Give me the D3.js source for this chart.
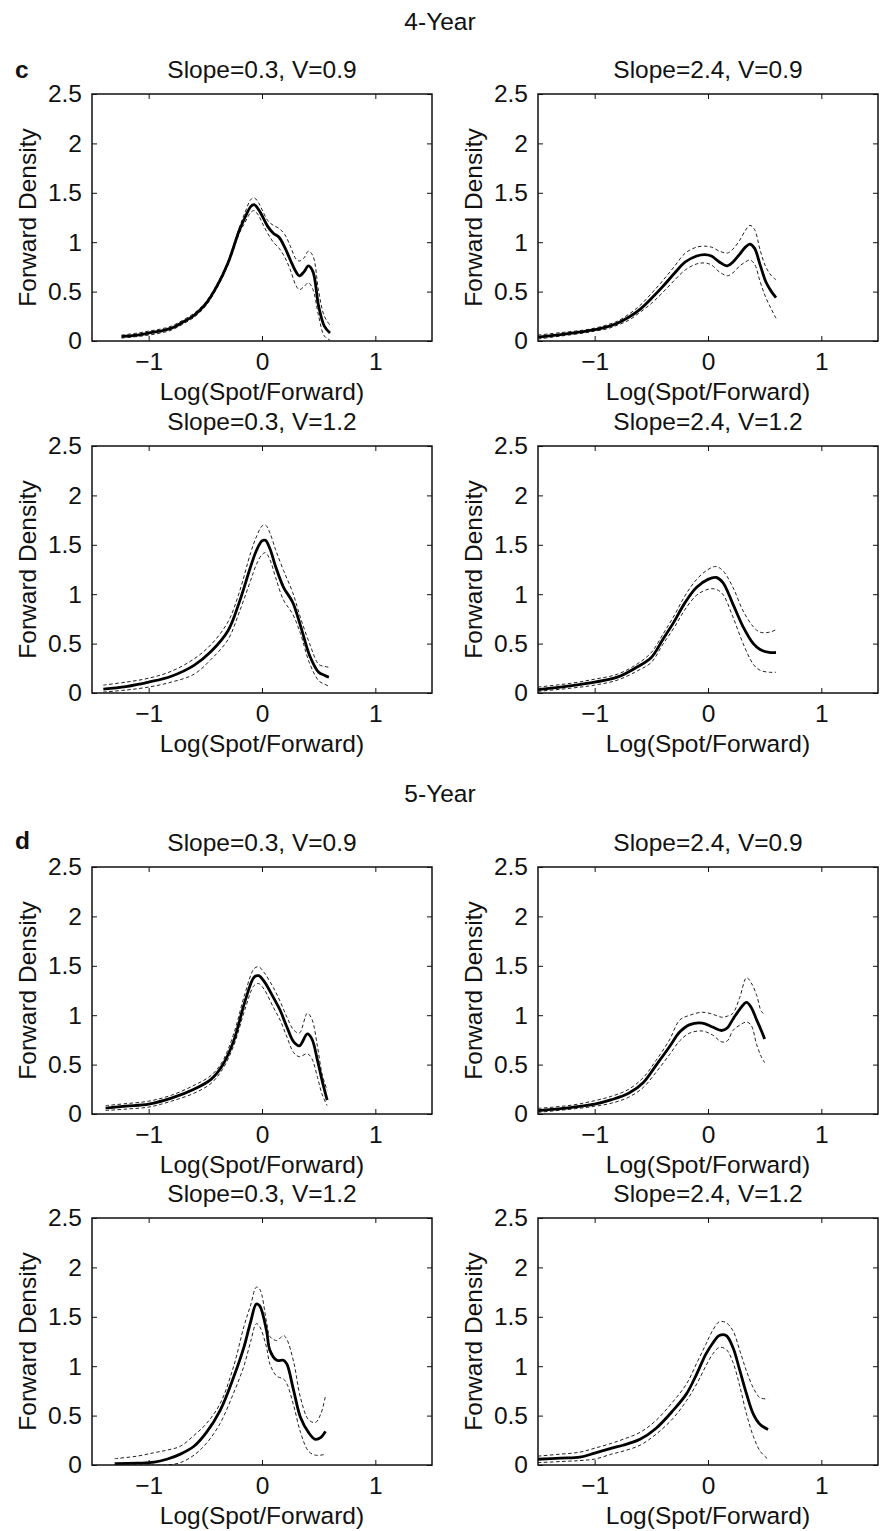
<!DOCTYPE html>
<html>
<head>
<meta charset="utf-8">
<script src="https://cdn.jsdelivr.net/npm/d3@7"></script>
<style>
  body { margin: 0; background: #fff; }
  svg { display: block; font-family: "Liberation Sans", Arial, Helvetica, sans-serif; }
</style>
</head>
<body>
<svg id="fig" width="883" height="1531"></svg>
<script>
// Estimated forward densities with confidence bands (dashed), by horizon and parameter set.

// ---------- 4-Year ----------
// Slope=0.3, V=0.9
const x4a   = [-1.24,-1.1,-1.0,-0.9,-0.8,-0.7,-0.6,-0.5,-0.4,-0.3,-0.2,-0.15,-0.1,-0.07,-0.03,0,0.05,0.1,0.15,0.2,0.25,0.3,0.33,0.37,0.41,0.45,0.5,0.55,0.6];
const mid4a = [0.045,0.06,0.08,0.10,0.13,0.19,0.26,0.37,0.55,0.79,1.12,1.25,1.36,1.38,1.33,1.27,1.16,1.09,1.05,0.95,0.82,0.70,0.66,0.70,0.76,0.70,0.35,0.15,0.08];
const hi4a  = [0.06,0.08,0.10,0.12,0.15,0.21,0.28,0.39,0.57,0.81,1.15,1.30,1.43,1.45,1.40,1.33,1.22,1.17,1.14,1.08,0.96,0.83,0.81,0.84,0.91,0.86,0.50,0.25,0.16];
const lo4a  = [0.03,0.045,0.06,0.08,0.11,0.17,0.24,0.35,0.53,0.77,1.09,1.20,1.30,1.32,1.27,1.20,1.09,1.00,0.94,0.85,0.72,0.56,0.52,0.55,0.59,0.52,0.25,0.05,0.01];

// Slope=2.4, V=0.9
const x4b   = [-1.5,-1.3,-1.1,-1.0,-0.9,-0.8,-0.7,-0.6,-0.5,-0.4,-0.3,-0.2,-0.1,-0.03,0.03,0.1,0.17,0.22,0.28,0.33,0.37,0.41,0.46,0.51,0.56,0.6];
const mid4b = [0.04,0.065,0.095,0.115,0.14,0.18,0.24,0.32,0.43,0.55,0.68,0.80,0.86,0.875,0.86,0.80,0.76,0.80,0.88,0.95,0.98,0.94,0.77,0.60,0.50,0.44];
const hi4b  = [0.06,0.085,0.11,0.13,0.16,0.20,0.27,0.36,0.48,0.61,0.75,0.89,0.95,0.96,0.95,0.91,0.89,0.93,1.02,1.12,1.17,1.13,0.92,0.75,0.66,0.62];
const lo4b  = [0.02,0.05,0.08,0.10,0.12,0.16,0.21,0.29,0.38,0.49,0.61,0.72,0.78,0.79,0.77,0.70,0.66,0.69,0.76,0.80,0.82,0.78,0.60,0.44,0.32,0.23];

// Slope=0.3, V=1.2
const x4c   = [-1.4,-1.2,-1.0,-0.8,-0.6,-0.45,-0.3,-0.2,-0.1,-0.05,0,0.03,0.07,0.12,0.19,0.27,0.34,0.42,0.5,0.55,0.59];
const mid4c = [0.04,0.065,0.11,0.17,0.28,0.42,0.63,0.92,1.28,1.44,1.54,1.545,1.46,1.28,1.07,0.92,0.68,0.38,0.21,0.18,0.16];
const hi4c  = [0.08,0.11,0.15,0.22,0.345,0.49,0.72,1.02,1.42,1.58,1.69,1.70,1.62,1.45,1.24,1.02,0.76,0.50,0.29,0.27,0.26];
const lo4c  = [0.01,0.03,0.06,0.11,0.19,0.34,0.54,0.82,1.14,1.30,1.40,1.42,1.35,1.17,0.94,0.80,0.60,0.30,0.125,0.09,0.07];

// Slope=2.4, V=1.2
const x4d   = [-1.5,-1.2,-1.0,-0.8,-0.63,-0.5,-0.4,-0.3,-0.2,-0.1,0,0.07,0.13,0.22,0.31,0.4,0.46,0.54,0.6];
const mid4d = [0.034,0.075,0.11,0.16,0.26,0.36,0.54,0.72,0.92,1.07,1.15,1.17,1.12,0.90,0.67,0.50,0.44,0.41,0.41];
const hi4d  = [0.06,0.10,0.14,0.19,0.29,0.41,0.59,0.78,0.99,1.15,1.25,1.28,1.24,1.07,0.83,0.67,0.615,0.615,0.64];
const lo4d  = [0.017,0.05,0.08,0.13,0.22,0.31,0.49,0.66,0.85,0.99,1.05,1.05,1.00,0.77,0.50,0.29,0.23,0.21,0.21];

// ---------- 5-Year ----------
// Slope=0.3, V=0.9
const x5a   = [-1.38,-1.2,-1.0,-0.8,-0.6,-0.45,-0.35,-0.25,-0.15,-0.07,-0.03,0.02,0.1,0.16,0.22,0.28,0.33,0.4,0.44,0.49,0.53,0.575];
const mid5a = [0.06,0.08,0.10,0.16,0.25,0.35,0.49,0.74,1.14,1.385,1.40,1.34,1.18,1.05,0.88,0.73,0.69,0.81,0.76,0.54,0.34,0.14];
const hi5a  = [0.085,0.105,0.13,0.19,0.29,0.39,0.53,0.81,1.22,1.47,1.49,1.43,1.28,1.14,0.98,0.85,0.82,1.02,0.96,0.68,0.405,0.24];
const lo5a  = [0.035,0.05,0.07,0.13,0.21,0.31,0.45,0.69,1.06,1.30,1.32,1.26,1.08,0.95,0.78,0.62,0.58,0.61,0.56,0.37,0.20,0.085];

// Slope=2.4, V=0.9
const x5b   = [-1.5,-1.2,-1.0,-0.85,-0.7,-0.57,-0.46,-0.34,-0.25,-0.16,-0.05,0.04,0.12,0.17,0.22,0.28,0.34,0.38,0.43,0.47,0.5];
const mid5b = [0.034,0.068,0.10,0.145,0.21,0.32,0.49,0.68,0.83,0.905,0.92,0.88,0.845,0.87,0.96,1.06,1.13,1.08,0.95,0.845,0.76];
const hi5b  = [0.057,0.09,0.135,0.18,0.25,0.37,0.54,0.75,0.95,1.00,1.03,1.01,0.98,0.99,1.02,1.18,1.38,1.33,1.20,1.04,1.01];
const lo5b  = [0.017,0.05,0.078,0.11,0.17,0.27,0.42,0.60,0.74,0.82,0.84,0.80,0.73,0.74,0.845,0.90,0.93,0.90,0.70,0.58,0.52];

// Slope=0.3, V=1.2
const x5c   = [-1.3,-1.1,-0.95,-0.84,-0.72,-0.6,-0.49,-0.37,-0.25,-0.16,-0.1,-0.05,-0.02,0.04,0.07,0.13,0.19,0.22,0.28,0.34,0.41,0.47,0.52,0.56];
const mid5c = [0.014,0.018,0.028,0.058,0.11,0.19,0.33,0.55,0.89,1.19,1.45,1.63,1.61,1.36,1.16,1.06,1.06,1.02,0.75,0.48,0.33,0.26,0.28,0.34];
const hi5c  = [0.064,0.09,0.125,0.15,0.19,0.30,0.42,0.62,1.0,1.40,1.62,1.80,1.78,1.45,1.30,1.26,1.31,1.27,1.04,0.68,0.46,0.43,0.52,0.70];
const lo5c  = [0,0,0,0,0.024,0.10,0.22,0.42,0.73,1.0,1.25,1.43,1.40,1.19,1.02,0.90,0.87,0.82,0.60,0.33,0.14,0.10,0.10,0.11];

// Slope=2.4, V=1.2
const x5d   = [-1.5,-1.3,-1.13,-1.0,-0.85,-0.75,-0.6,-0.46,-0.31,-0.19,-0.1,-0.02,0.04,0.1,0.16,0.22,0.28,0.34,0.4,0.46,0.53];
const mid5d = [0.058,0.07,0.08,0.12,0.17,0.20,0.26,0.37,0.55,0.72,0.92,1.12,1.23,1.31,1.31,1.19,0.96,0.72,0.515,0.41,0.36];
const hi5d  = [0.09,0.11,0.13,0.17,0.22,0.26,0.33,0.45,0.64,0.82,1.03,1.22,1.36,1.45,1.44,1.36,1.16,0.95,0.78,0.68,0.67];
const lo5d  = [0.024,0.035,0.045,0.06,0.11,0.14,0.20,0.31,0.47,0.65,0.82,1.00,1.12,1.19,1.17,1.04,0.80,0.515,0.29,0.14,0.058];

// Axis ticks and labels
const xTicks = [-1, 0, 1];
const yTicks = [0, 0.5, 1, 1.5, 2, 2.5];
const xDomain = [-1.5, 1.5];
const yDomain = [0, 2.5];
const xLabel = "Log(Spot/Forward)";
const yLabel = "Forward Density";

const groupTitles = ["4-Year", "5-Year"];
const groupLetters = ["c", "d"];

// Panel table: group, row within group, column, title, series
const panels = [
  { g: 0, r: 0, c: 0, title: "Slope=0.3, V=0.9", x: x4a, mid: mid4a, hi: hi4a, lo: lo4a },
  { g: 0, r: 0, c: 1, title: "Slope=2.4, V=0.9", x: x4b, mid: mid4b, hi: hi4b, lo: lo4b },
  { g: 0, r: 1, c: 0, title: "Slope=0.3, V=1.2", x: x4c, mid: mid4c, hi: hi4c, lo: lo4c },
  { g: 0, r: 1, c: 1, title: "Slope=2.4, V=1.2", x: x4d, mid: mid4d, hi: hi4d, lo: lo4d },
  { g: 1, r: 0, c: 0, title: "Slope=0.3, V=0.9", x: x5a, mid: mid5a, hi: hi5a, lo: lo5a },
  { g: 1, r: 0, c: 1, title: "Slope=2.4, V=0.9", x: x5b, mid: mid5b, hi: hi5b, lo: lo5b },
  { g: 1, r: 1, c: 0, title: "Slope=0.3, V=1.2", x: x5c, mid: mid5c, hi: hi5c, lo: lo5c },
  { g: 1, r: 1, c: 1, title: "Slope=2.4, V=1.2", x: x5d, mid: mid5d, hi: hi5d, lo: lo5d }
];

// Layout
const FS = 24.5;
const W = 340, H = 247;
const colLeft = [92, 538];
const rowTop = [[94, 446], [867, 1218]];
const groupTitleY = [30, 802];
const letterY = [78, 849];

const svg = d3.select("#fig");

svg.append("rect").attr("width", 883).attr("height", 1531).attr("fill", "#fff");

groupTitles.forEach((t, i) => {
  svg.append("text")
    .attr("x", 440).attr("y", groupTitleY[i])
    .attr("text-anchor", "middle")
    .attr("font-size", FS)
    .attr("fill", "#111")
    .text(t);
  svg.append("text")
    .attr("x", 15).attr("y", letterY[i])
    .attr("font-size", FS)
    .attr("font-weight", "bold")
    .attr("fill", "#111")
    .text(groupLetters[i]);
});

const fmtX = d3.format("");
const fmtY = d => String(d);

panels.forEach(p => {
  const left = colLeft[p.c];
  const top = rowTop[p.g][p.r];
  const g = svg.append("g").attr("transform", `translate(${left},${top})`);

  const x = d3.scaleLinear().domain(xDomain).range([0, W]);
  const y = d3.scaleLinear().domain(yDomain).range([H, 0]);

  // Inward ticks on all four sides
  const axB = g.append("g").attr("transform", `translate(0,${H})`)
    .call(d3.axisBottom(x).tickValues(xTicks).tickSize(-5).tickPadding(12).tickFormat(fmtX));
  const axT = g.append("g")
    .call(d3.axisTop(x).tickValues(xTicks).tickSize(-5).tickFormat(""));
  const axL = g.append("g")
    .call(d3.axisLeft(y).tickValues(yTicks).tickSize(-5).tickPadding(10).tickFormat(fmtY));
  const axR = g.append("g").attr("transform", `translate(${W},0)`)
    .call(d3.axisRight(y).tickValues(yTicks).tickSize(-5).tickFormat(""));

  [axB, axT, axL, axR].forEach(a => {
    a.select(".domain").remove();
    a.selectAll(".tick line").attr("stroke", "#111").attr("stroke-width", 1);
    a.selectAll(".tick text")
      .attr("font-size", FS)
      .attr("fill", "#111")
      .attr("font-family", "Liberation Sans, Arial, sans-serif");
  });

  // Clip curves to the plotting box
  const clipId = `clip-${p.g}-${p.r}-${p.c}`;
  g.append("clipPath").attr("id", clipId)
    .append("rect").attr("width", W).attr("height", H);

  const pts = arr => p.x.map((xv, i) => [xv, arr[i]]);
  const line = d3.line()
    .x(d => x(d[0])).y(d => y(d[1]))
    .curve(d3.curveCatmullRom.alpha(0.5));

  const curves = g.append("g").attr("clip-path", `url(#${clipId})`);
  [p.hi, p.lo].forEach(band => {
    curves.append("path")
      .attr("d", line(pts(band)))
      .attr("fill", "none")
      .attr("stroke", "#222")
      .attr("stroke-width", 1)
      .attr("stroke-dasharray", "3.5,2.5");
  });
  curves.append("path")
    .attr("d", line(pts(p.mid)))
    .attr("fill", "none")
    .attr("stroke", "#000")
    .attr("stroke-width", 2.8)
    .attr("stroke-linejoin", "round");

  // Box
  g.append("rect")
    .attr("width", W).attr("height", H)
    .attr("fill", "none")
    .attr("stroke", "#111")
    .attr("stroke-width", 1.5);

  // Titles and labels
  g.append("text")
    .attr("x", W / 2).attr("y", -16.5)
    .attr("text-anchor", "middle")
    .attr("font-size", FS)
    .attr("fill", "#111")
    .text(p.title);
  g.append("text")
    .attr("x", W / 2).attr("y", H + 59)
    .attr("text-anchor", "middle")
    .attr("font-size", FS)
    .attr("fill", "#111")
    .text(xLabel);
  g.append("text")
    .attr("transform", `translate(-56,${H / 2}) rotate(-90)`)
    .attr("text-anchor", "middle")
    .attr("font-size", FS)
    .attr("fill", "#111")
    .text(yLabel);
});
</script>
</body>
</html>
